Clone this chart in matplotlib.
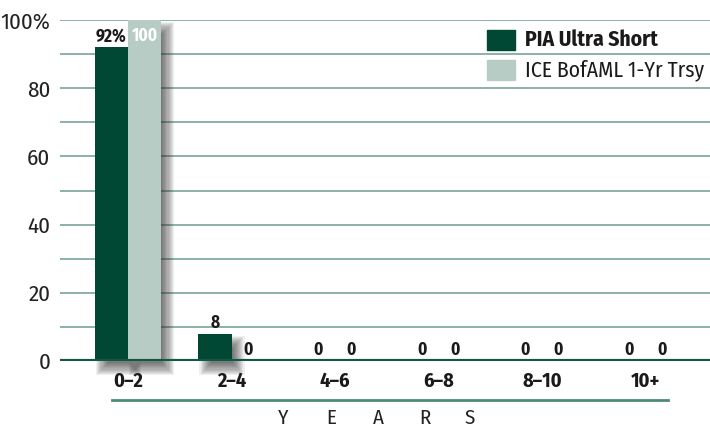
import matplotlib
matplotlib.use("Agg")
import matplotlib.pyplot as plt
import matplotlib.transforms as mtransforms
from matplotlib.patches import Rectangle
import numpy as np

categories = ["0\u20132", "2\u20134", "4\u20136", "6\u20138", "8\u201310", "10+"]
pia = [92, 8, 0, 0, 0, 0]
ice = [100, 0, 0, 0, 0, 0]
pia_labels = ["92%", "8", "0", "0", "0", "0"]
ice_labels = ["100", "0", "0", "0", "0", "0"]
series_names = ["PIA Ultra Short", "ICE BofAML 1-Yr Trsy"]
yticks = [0, 20, 40, 60, 80, 100]
ytick_labels = ["0", "20", "40", "60", "80", "100%"]

DARK = "#004833"
LIGHT = "#b6ccc4"
GRID = "#84ad9e"

plt.rcParams['font.family'] = ['Fira Sans Condensed', 'DejaVu Sans']

fig = plt.figure(figsize=(7.1, 4.28), dpi=100)
ax = fig.add_axes([60/710, 1-361/428, 650/710, 341/428])

x = np.arange(len(categories))
w = 0.319
b1 = ax.bar(x - w/2, pia, w, color=DARK, zorder=3)
b2 = ax.bar(x + w/2, ice, w, color=LIGHT, zorder=3)

ax.set_xlim(-0.657, 5.623)
ax.set_ylim(0, 100)

# soft blurred drop shadow (layered translucent rectangles offset in pixels)
def add_shadow(bar, dx=7, dy=-8, steps=12, spread=12):
    x0, y0 = bar.get_x(), bar.get_y()
    bw, bh = bar.get_width(), bar.get_height()
    if bh <= 0:
        return
    pxw = ax.transData.transform((bw, 0))[0] - ax.transData.transform((0, 0))[0]
    pxh = ax.transData.transform((0, bh))[1] - ax.transData.transform((0, 0))[1]
    for k in range(steps):
        grow = spread * (k / (steps - 1)) - spread / 2
        tr = mtransforms.offset_copy(ax.transData, fig=fig, x=dx - grow, y=dy - grow, units="dots")
        sw = bw * (pxw + 2 * grow) / pxw
        sh = bh * (pxh + 2 * grow) / pxh
        r = Rectangle((x0, y0), sw, sh, transform=tr, facecolor="#2a2a2a",
                      edgecolor="none", alpha=0.075, zorder=2, clip_on=False)
        ax.add_patch(r)

for b in list(b1) + list(b2):
    add_shadow(b)

for i in range(len(categories)):
    ax.text(x[i] - w/2, pia[i] + 0.6, pia_labels[i], ha="center", va="bottom",
            fontsize=12.5, fontweight="bold", color="#1a1a1a", zorder=5)
    if ice[i] >= 100:
        ax.text(x[i] + w/2, ice[i] - 2, ice_labels[i], ha="center", va="top",
                fontsize=12.5, fontweight="bold", color="white", zorder=5)
    else:
        ax.text(x[i] + w/2, ice[i] + 0.6, ice_labels[i], ha="center", va="bottom",
                fontsize=12.5, fontweight="bold", color="#1a1a1a", zorder=5)

for g in range(10, 101, 10):
    ax.axhline(g, color=GRID, lw=1.3, zorder=1)
ax.axhline(0, color="#0f5a40", lw=3, zorder=4)

ax.set_yticks(yticks)
ax.set_yticklabels(ytick_labels, fontsize=16.5, color="#222222")
ax.tick_params(axis="y", length=0, pad=7)
ax.set_xticks(x)
ax.set_xticklabels(categories, fontsize=14.5, fontweight="bold", color="#1a1a1a")
ax.tick_params(axis="x", length=0, pad=8)
for s in ax.spines.values():
    s.set_visible(False)

# underline and YEARS
fig.add_artist(plt.Line2D([112/710, 668/710], [1-400/428, 1-400/428],
                          color="#4d8a74", lw=2))
for letter, px in zip("YEARS", [283, 331, 378, 425, 470]):
    fig.text(px/710, 1-418/428, letter, ha="center", va="center", fontsize=15, color="#222222")

# legend
for k, (name, col, wt) in enumerate(zip(series_names, [DARK, LIGHT], ["bold", "normal"])):
    yc = 1 - (40 + 30*k)/428
    fig.add_artist(Rectangle((487/710, yc - 10/428), 28/710, 20/428,
                             transform=fig.transFigure, color=col))
    fig.text(525/710, yc, name, ha="left", va="center", fontsize=15.5,
             fontweight=wt, color="#1a1a1a")

fig.savefig("out.png", dpi=100)
